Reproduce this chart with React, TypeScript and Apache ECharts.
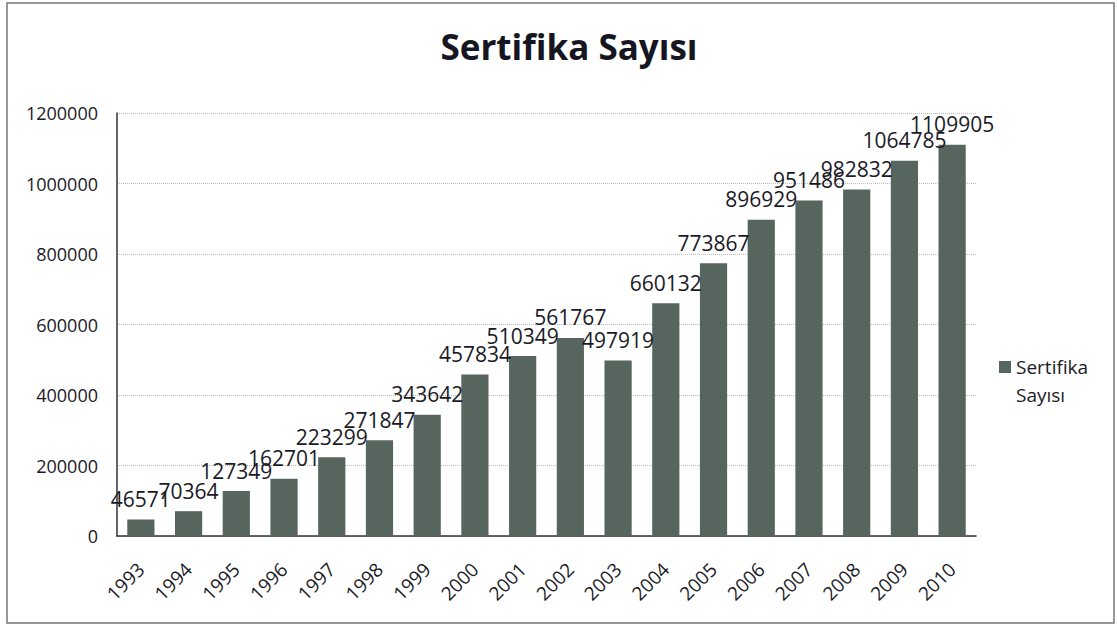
import React, { useEffect, useRef } from "react";
import * as echarts from "echarts";

const categories = ["1993","1994","1995","1996","1997","1998","1999","2000","2001","2002","2003","2004","2005","2006","2007","2008","2009","2010"];
const values = [46571,70364,127349,162701,223299,271847,343642,457834,510349,561767,497919,660132,773867,896929,951486,982832,1064785,1109905];
const seriesName = "Sertifika Sayısı";
const titleText = "Sertifika Sayısı";
const legendLines = [" ", "Sertifika", "Sayısı"];

const FONT = "'Open Sans', 'Noto Sans', sans-serif";

export default function App() {
  const ref = useRef<HTMLDivElement>(null);
  useEffect(() => {
    const chart = echarts.init(ref.current!, null, { renderer: "svg" });
    chart.setOption({
      animation: false,
      backgroundColor: "#ffffff",
      textStyle: { fontFamily: FONT },
      title: {
        text: titleText,
        left: 564,
        top: 24,
        textAlign: "center",
        textStyle: { fontFamily: FONT, fontSize: 35, fontWeight: "bold", color: "#161622" },
      },
      graphic: [
        {
          type: "rect",
          shape: { x: 7, y: 3, width: 1107, height: 620 },
          style: { fill: "none", stroke: "#777", lineWidth: 1.5 },
          silent: true,
        },
      ],
      legend: {
        left: 994,
        top: 320,
        icon: "rect",
        itemWidth: 12,
        itemHeight: 12,
        itemGap: 0,
        formatter: () => legendLines.join("\n"),
        textStyle: { fontFamily: FONT, fontSize: 19, color: "#1a1a26", lineHeight: 28 },
        data: [seriesName],
      },
      grid: { left: 117, right: 141, top: 113, bottom: 89, containLabel: false },
      xAxis: {
        type: "category",
        data: categories,
        axisLine: { show: true, lineStyle: { color: "#333", width: 1.5 } },
        axisTick: { show: false },
        axisLabel: { rotate: 45, fontFamily: FONT, fontSize: 19, color: "#1a1a26", margin: 30, interval: 0 },
      },
      yAxis: {
        type: "value",
        min: 0,
        max: 1200000,
        interval: 200000,
        axisLine: { show: true, lineStyle: { color: "#333", width: 1.5 } },
        axisTick: { show: false },
        axisLabel: {
          fontFamily: FONT,
          fontSize: 18,
          color: "#1a1a26",
          margin: 19,
          formatter: (v: number) => String(v),
        },
        splitLine: { show: true, lineStyle: { color: "#bbb", type: "dotted", width: 1 } },
      },
      series: [
        {
          name: seriesName,
          type: "bar",
          data: values,
          barWidth: "57%",
          itemStyle: { color: "#56665f" },
          label: {
            show: true,
            position: "top",
            distance: 10,
            fontFamily: FONT,
            fontSize: 21,
            color: "#1a1a26",
          },
        },
      ],
    });
    return () => chart.dispose();
  }, []);
  return (
    <div
      ref={ref}
      style={{ position: "fixed", left: 0, top: 0, width: 1117, height: 625, background: "#fff" }}
    />
  );
}
